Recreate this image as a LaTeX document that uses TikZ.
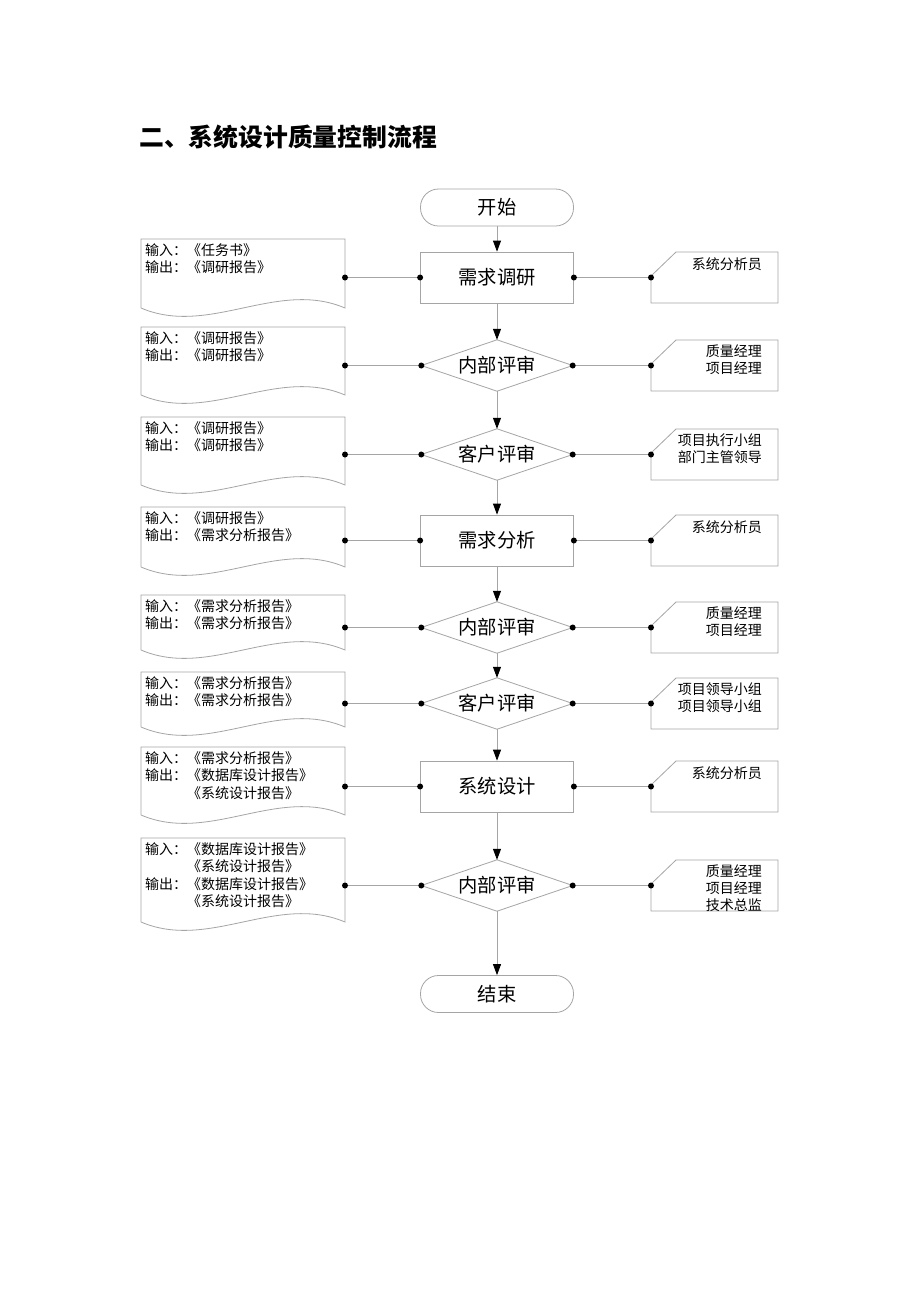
\documentclass[tikz,border=0pt]{standalone}
\usepackage{fontspec}
\setmainfont{Noto Sans CJK SC}
\usetikzlibrary{arrows.meta,calc}
\definecolor{lc}{RGB}{165,165,165}
\newcommand\mydoc[4]{%
  \coordinate (#1nw) at (141,#2);
  \coordinate (#1se) at (345,#3);
  \draw[shp] (#1nw |- #1se) -- (#1nw) -- (#1se |- #1nw) -- (#1se)
     .. controls +(-68,-29) and +(68,29) .. (#1nw |- #1se);
  \node[doctext] (#1t) at ($(#1nw)+(4,4)$) {#4};
}
\newcommand\myrole[4]{%
  \coordinate (#1nw) at (651,#2);
  \coordinate (#1se) at (778,#3);
  \draw[shp] ($(#1nw)+(0,24)$) -- ($(#1nw)+(25,0)$) -- (#1se |- #1nw) -- (#1se) -- (#1nw |- #1se) -- cycle;
  \node[roletext] (#1t) at ($(#1se |- #1nw)+(-16,5)$) {#4};
}
\newcommand\mylink[2]{%
  \draw[cline] #1 -- #2;
  \fill #1 circle (3pt);
  \fill #2 circle (3pt);
}
\newcommand\mydiam[1]{%
  \draw[shp] (#1.west) -- (#1.north) -- (#1.east) -- (#1.south) -- cycle;
}
\newcommand\ind{\hphantom{输入：}}
\begin{document}
\begin{tikzpicture}[x=1pt,y=-1pt,
  shp/.style={draw=lc,line width=0.8pt},
  cline/.style={draw=lc,line width=0.8pt},
  arr/.style={draw=lc,line width=0.8pt,-{Triangle[length=11pt,width=8pt,color=black]}},
  mainfont/.style={font=\fontsize{19.3}{19.3}\selectfont},
  term/.style={shp,mainfont,rounded corners=18pt,minimum width=153pt,minimum height=37pt,inner sep=0pt},
  proc/.style={shp,mainfont,minimum width=153pt,minimum height=51pt,inner sep=0pt},
  dec/.style={mainfont,minimum width=151pt,minimum height=51pt,inner sep=0pt},
  doctext/.style={anchor=north west,inner sep=0pt,align=left,font=\fontsize{14}{17.5}\selectfont},
  roletext/.style={anchor=north east,inner sep=0pt,align=right,font=\fontsize{14}{17}\selectfont}
]
\useasboundingbox[fill=white] (0,0) rectangle (920,1302);

\node[anchor=west,inner sep=0pt,font=\fontsize{24.8}{24.8}\selectfont\bfseries] (title) at (139,137) {二、系统设计质量控制流程};

% main column
\node[term] (s) at (497,207.5) {开始};
\node[proc] (b1) at (497,277.5) {需求调研};
\node[dec] (d2) at (497,365.5) {内部评审};
\node[dec] (d3) at (497,454.5) {客户评审};
\node[proc] (b4) at (497,540.5) {需求分析};
\node[dec] (d5) at (497,627.5) {内部评审};
\node[dec] (d6) at (497,703.5) {客户评审};
\node[proc] (b7) at (497,786.5) {系统设计};
\node[dec] (d8) at (497,885.5) {内部评审};
\node[term] (e) at (497,994) {结束};
\mydiam{d2}\mydiam{d3}\mydiam{d5}\mydiam{d6}\mydiam{d8}

\draw[arr] (s.south) -- (b1.north);
\draw[arr] (b1.south) -- (d2.north);
\draw[arr] (d2.south) -- (d3.north);
\draw[arr] (d3.south) -- (b4.north);
\draw[arr] (b4.south) -- (d5.north);
\draw[arr] (d5.south) -- (d6.north);
\draw[arr] (d6.south) -- (b7.north);
\draw[arr] (b7.south) -- (d8.north);
\draw[arr] (d8.south) -- (e.north);

% documents
\mydoc{L1}{239}{308}{输入：《任务书》\\输出：《调研报告》}
\mydoc{L2}{327}{395}{输入：《调研报告》\\输出：《调研报告》}
\mydoc{L3}{417}{485}{输入：《调研报告》\\输出：《调研报告》}
\mydoc{L4}{507}{567}{输入：《调研报告》\\输出：《需求分析报告》}
\mydoc{L5}{595}{650}{输入：《需求分析报告》\\输出：《需求分析报告》}
\mydoc{L6}{672}{727}{输入：《需求分析报告》\\输出：《需求分析报告》}
\mydoc{L7}{747}{815}{输入：《需求分析报告》\\输出：《数据库设计报告》\\\ind《系统设计报告》}
\mydoc{L8}{838}{922}{输入：《数据库设计报告》\\\ind《系统设计报告》\\输出：《数据库设计报告》\\\ind《系统设计报告》}

% roles
\myrole{R1}{252}{303}{系统分析员}
\myrole{R2}{340}{391}{质量经理\\项目经理}
\myrole{R3}{429}{480}{项目执行小组\\部门主管领导}
\myrole{R4}{515}{566}{系统分析员}
\myrole{R5}{602}{653}{质量经理\\项目经理}
\myrole{R6}{678}{729}{项目领导小组\\项目领导小组}
\myrole{R7}{761}{812}{系统分析员}
\myrole{R8}{860}{911}{质量经理\\项目经理\\技术总监}

% links
\mylink{(b1.west -| L1se)}{(b1.west)}
\mylink{(d2.west -| L2se)}{(d2.west)}
\mylink{(d3.west -| L3se)}{(d3.west)}
\mylink{(b4.west -| L4se)}{(b4.west)}
\mylink{(d5.west -| L5se)}{(d5.west)}
\mylink{(d6.west -| L6se)}{(d6.west)}
\mylink{(b7.west -| L7se)}{(b7.west)}
\mylink{(d8.west -| L8se)}{(d8.west)}

\mylink{(b1.east)}{(b1.east -| R1nw)}
\mylink{(d2.east)}{(d2.east -| R2nw)}
\mylink{(d3.east)}{(d3.east -| R3nw)}
\mylink{(b4.east)}{(b4.east -| R4nw)}
\mylink{(d5.east)}{(d5.east -| R5nw)}
\mylink{(d6.east)}{(d6.east -| R6nw)}
\mylink{(b7.east)}{(b7.east -| R7nw)}
\mylink{(d8.east)}{(d8.east -| R8nw)}
\end{tikzpicture}
\end{document}
